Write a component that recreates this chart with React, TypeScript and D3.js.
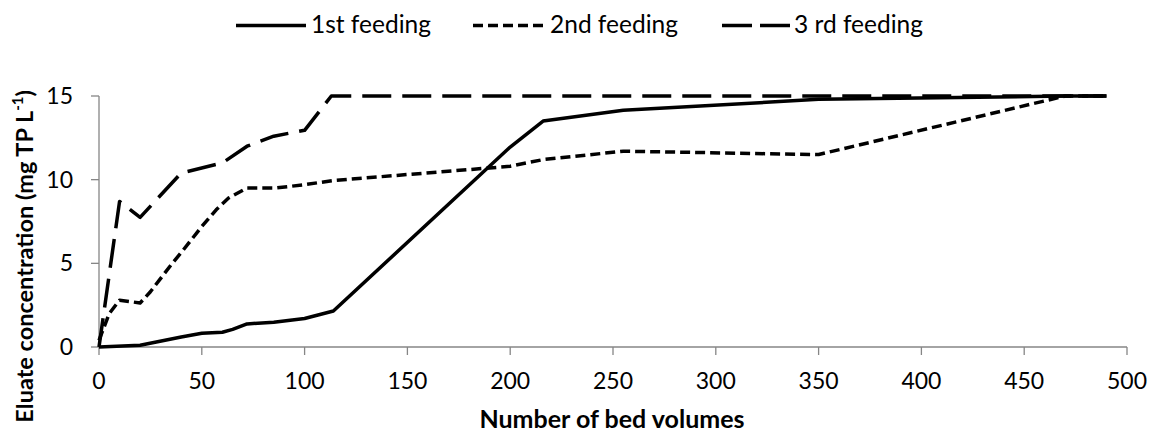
import React from "react";
import * as d3 from "d3";

const feed1X = [0, 20, 40, 50, 60, 65, 72, 85, 100, 114, 200, 216, 255, 350, 470, 490];
const feed1Y = [0, 0.1, 0.6, 0.82, 0.88, 1.05, 1.38, 1.48, 1.7, 2.15, 11.95, 13.5, 14.15, 14.8, 15, 15];

const feed2X = [0, 5, 10, 20, 25, 30, 35, 41, 50, 57, 63, 72, 86, 100, 114, 200, 216, 255, 350, 470, 490];
const feed2Y = [0.4, 2.0, 2.8, 2.63, 3.3, 4.1, 4.9, 5.8, 7.2, 8.2, 8.9, 9.5, 9.5, 9.7, 9.95, 10.8, 11.2, 11.7, 11.5, 15, 15];

const feed3X = [0, 10, 20, 40, 60, 72, 85, 100, 113, 490];
const feed3Y = [0, 8.7, 7.75, 10.4, 11.0, 12.0, 12.6, 12.95, 15, 15];

const seriesNames = ["1st feeding", "2nd feeding", "3 rd feeding"];
const xTicks = [0, 50, 100, 150, 200, 250, 300, 350, 400, 450, 500];
const yTicks = [0, 5, 10, 15];

const FONT = "Lato, 'Liberation Sans', sans-serif";

export default function App() {
  const W = 1151, H = 435;
  const x = d3.scaleLinear().domain([0, 500]).range([99, 1127]);
  const y = d3.scaleLinear().domain([0, 15]).range([347, 96]);
  const line = d3.line<[number, number]>().x(d => x(d[0])).y(d => y(d[1]));
  const zip = (a: number[], b: number[]) => a.map((v, i) => [v, b[i]] as [number, number]);
  const series = [
    { name: seriesNames[0], pts: zip(feed1X, feed1Y), dash: "none", lx: [236, 306], tx: 311 },
    { name: seriesNames[1], pts: zip(feed2X, feed2Y), dash: "10,5", lx: [473, 546], tx: 550 },
    { name: seriesNames[2], pts: zip(feed3X, feed3Y), dash: "29,11", lx: [722, 790], tx: 794 },
  ];
  const axisColor = "#868686";
  return (
    <svg width={W} height={H} style={{ position: "absolute", left: 0, top: 0, background: "#fff" }} fontFamily={FONT}>
      <rect width={W} height={H} fill="#fff" />
      {/* legend */}
      {series.map((s, i) => (
        <g key={i}>
          <line x1={s.lx[0]} x2={s.lx[1]} y1={25.5} y2={25.5} stroke="#000" strokeWidth={3.5}
            strokeDasharray={i === 2 ? "30,8" : s.dash} />
          <text x={s.tx} y={33} fontSize={24.5} fill="#000">{s.name}</text>
        </g>
      ))}
      {/* axes */}
      <line x1={x(0)} x2={x(0)} y1={y(15)} y2={y(0)} stroke={axisColor} strokeWidth={1.3} />
      <line x1={x(0)} x2={x(500)} y1={y(0)} y2={y(0)} stroke={axisColor} strokeWidth={1.3} />
      {yTicks.map(t => (
        <g key={"y" + t}>
          <line x1={x(0) - 8} x2={x(0)} y1={y(t)} y2={y(t)} stroke={axisColor} strokeWidth={1.3} />
          <text x={73} y={y(t) + 8} fontSize={23} textAnchor="end" fill="#000">{t}</text>
        </g>
      ))}
      {xTicks.map(t => (
        <g key={"x" + t}>
          <line x1={x(t)} x2={x(t)} y1={y(0)} y2={y(0) + 8} stroke={axisColor} strokeWidth={1.3} />
          <text x={x(t)} y={389} fontSize={23} textAnchor="middle" fill="#000">{t}</text>
        </g>
      ))}
      {/* lines */}
      {series.map((s, i) => (
        <path key={"p" + i} d={line(s.pts) || ""} fill="none" stroke="#000" strokeWidth={3.5}
          strokeDasharray={s.dash} strokeLinejoin="round" />
      ))}
      {/* axis titles */}
      <text x={612} y={428} fontSize={25} fontWeight="bold" textAnchor="middle" fill="#000">Number of bed volumes</text>
      <text transform="translate(33,90) rotate(-90)" fontSize={23.5} fontWeight="bold" textAnchor="end" fill="#000">
        Eluate concentration (mg TP L<tspan fontSize={15} dy={-10}>-1</tspan><tspan dy={10}>)</tspan>
      </text>
    </svg>
  );
}
